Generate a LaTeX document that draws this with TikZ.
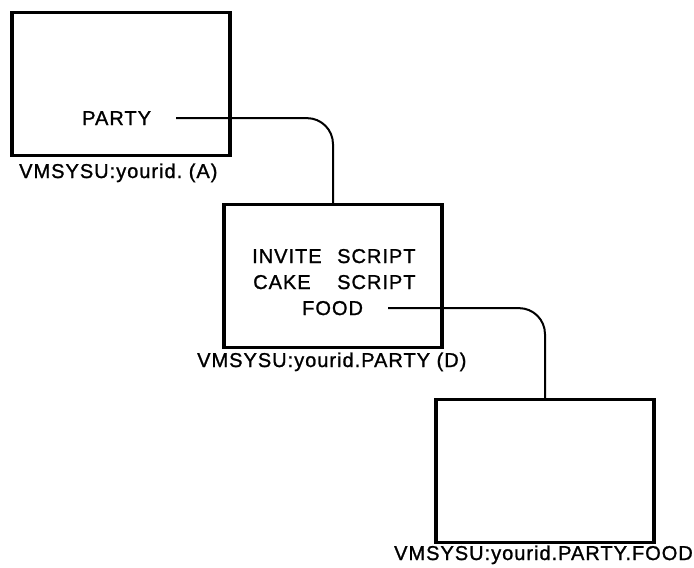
\documentclass[tikz,border=0pt]{standalone}
\usepackage{fontspec}
\newfontfamily\listfont{Liberation Sans}[LetterSpace=5, FakeBold=1.2]
\usepackage{tikz}
\usetikzlibrary{positioning, calc}

\begin{document}
\begin{tikzpicture}[x=1pt, y=-1pt,
        dirbox/.style={rectangle, draw, line width=3.5pt, minimum width=218pt, minimum height=143pt, inner sep=0pt},
        entry/.style={inner sep=0pt, anchor=base west, font=\listfont\fontsize{20}{24}\selectfont},
        link/.style={line width=2pt, rounded corners=26pt}
    ]
        \useasboundingbox (0,0) rectangle (694,568);

        \node[dirbox] (top) at (121,84) {};
        \node[dirbox] (party) at (333,276) {};
        \node[dirbox] (food) at (545,471) {};

        \node[entry] (partyname) at (82,125) {PARTY};
        \node[entry] (toplabel) at (19,178) {VMSYSU:yourid.\ (A)};

        \node[entry] (invite) at (252,263) {INVITE};
        \node[entry] (invitetype) at (337,263) {SCRIPT};
        \node[entry] (cake) at (253,289) {CAKE};
        \node[entry] (caketype) at (337,289) {SCRIPT};
        \node[entry] (foodname) at (302,315) {FOOD};
        \node[entry] (partylabel) at (197,367) {VMSYSU:yourid.PARTY (D)};

        \node[entry, anchor=base east] (foodlabel) at (693,560) {VMSYSU:yourid.PARTY.FOOD};

        \draw[link] ([xshift=25pt]partyname.east) -| (party.north);
        \draw[link] ([xshift=25pt]foodname.east) -| (food.north);
    \end{tikzpicture}
\end{document}
